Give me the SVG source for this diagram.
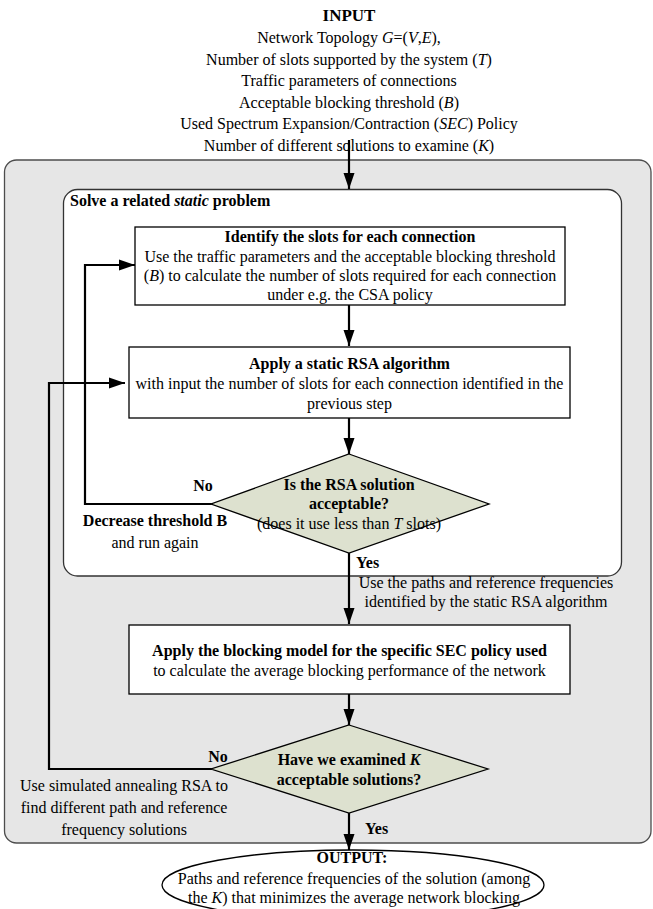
<svg xmlns="http://www.w3.org/2000/svg" width="653" height="909" viewBox="0 0 653 909">
<style>
text{font-family:'Liberation Serif','DejaVu Serif','Noto Serif',serif;font-size:16px;fill:#000}
.b{font-weight:bold}
.c{text-anchor:middle}
.i{font-style:italic}
.box{fill:#fff;stroke:#000;stroke-width:1.3}
.dia{fill:#dde1cf;stroke:#000;stroke-width:1.3}
.conn{fill:none;stroke:#000;stroke-width:2.2}
</style>
<defs>
<marker id="arr" markerUnits="userSpaceOnUse" markerWidth="16" markerHeight="12" refX="16" refY="6" orient="auto">
<path d="M0,0.5 L16,6 L0,11.5 z" fill="#000"/>
</marker>
</defs>
<rect width="653" height="909" fill="#fff"/>
<g id="outer-container">
<rect x="4.5" y="160" width="646.5" height="683" rx="12" fill="#e6e6e6" stroke="#4d4d4d" stroke-width="1.3"/>
</g>
<g id="static-container">
<rect x="63.5" y="189.5" width="558" height="386.5" rx="14" fill="#fff" stroke="#333" stroke-width="1.3"/>
<text class="b" x="70" y="205.5">Solve a related <tspan class="i">static</tspan> problem</text>
</g>
<g id="input">
<text class="b c" x="349" y="21" style="font-size:17px">INPUT</text>
<text class="c" x="349" y="43">Network Topology <tspan class="i">G</tspan>=(<tspan class="i">V</tspan>,<tspan class="i">E</tspan>),</text>
<text class="c" x="349" y="64.5">Number of slots supported by the system (<tspan class="i">T</tspan>)</text>
<text class="c" x="349" y="86">Traffic parameters of connections</text>
<text class="c" x="349" y="107.5">Acceptable blocking threshold (<tspan class="i">B</tspan>)</text>
<text class="c" x="349" y="129">Used Spectrum Expansion/Contraction (<tspan class="i">SEC</tspan>) Policy</text>
<text class="c" x="349" y="150.5">Number of different solutions to examine (<tspan class="i">K</tspan>)</text>
</g>
<g id="connectors">
<path class="conn" d="M349,140 V189" marker-end="url(#arr)"/>
<path class="conn" d="M349,305 V346" marker-end="url(#arr)"/>
<path class="conn" d="M349,418 V454" marker-end="url(#arr)"/>
<path class="conn" d="M349,553 V624" marker-end="url(#arr)"/>
<path class="conn" d="M349,694 V725" marker-end="url(#arr)"/>
<path class="conn" d="M349,813 V850" marker-end="url(#arr)"/>
<path class="conn" d="M212,504 H85 V265 H135" marker-end="url(#arr)"/>
<path class="conn" d="M212,769 H49 V383 H125" marker-end="url(#arr)"/>
</g>
<g id="identify-slots">
<rect class="box" x="135" y="227" width="430" height="78"/>
<text class="b c" x="350" y="242">Identify the slots for each connection</text>
<text class="c" x="350" y="261.5">Use the traffic parameters and the acceptable blocking threshold</text>
<text class="c" x="350" y="280.5">(<tspan class="i">B</tspan>) to calculate the number of slots required for each connection</text>
<text class="c" x="350" y="299.5">under e.g. the CSA policy</text>
</g>
<g id="static-rsa">
<rect class="box" x="129" y="347" width="441" height="71"/>
<text class="b c" x="349.5" y="368.5">Apply a static RSA algorithm</text>
<text class="c" x="349.5" y="388.5">with input the number of slots for each connection identified in the</text>
<text class="c" x="349.5" y="408.5">previous step</text>
</g>
<g id="rsa-acceptable">
<polygon class="dia" points="349,454 489,504 349,553 211,504"/>
<text class="b c" x="349" y="489.5">Is the RSA solution</text>
<text class="b c" x="349" y="508.5">acceptable?</text>
<text class="c" x="349" y="528.5">(does it use less than <tspan class="i">T</tspan> slots)</text>
</g>
<g id="labels-loop1">
<text class="b c" x="203" y="491">No</text>
<text class="b c" x="155" y="525.5">Decrease threshold B</text>
<text class="c" x="155" y="547.5">and run again</text>
<text class="b" x="356" y="567.5">Yes</text>
<text class="c" x="486" y="587.5">Use the paths and reference frequencies</text>
<text class="c" x="486" y="606.5">identified by the static RSA algorithm</text>
</g>
<g id="blocking-model">
<rect class="box" x="129" y="625" width="441" height="69"/>
<text class="b c" x="349.5" y="655.5">Apply the blocking model for the specific SEC policy used</text>
<text class="c" x="349.5" y="675.5">to calculate the average blocking performance of the network</text>
</g>
<g id="examined-k">
<polygon class="dia" points="349,725 488,769 349,813 211,769"/>
<text class="b c" x="349" y="764.5">Have we examined <tspan class="i">K</tspan></text>
<text class="b c" x="349" y="784.5">acceptable solutions?</text>
</g>
<g id="labels-loop2">
<text class="b c" x="218" y="762">No</text>
<text class="c" x="124" y="791">Use simulated annealing RSA to</text>
<text class="c" x="124" y="813">find different path and reference</text>
<text class="c" x="124" y="834.5">frequency solutions</text>
<text class="b" x="365" y="833.5">Yes</text>
</g>
<g id="output">
<ellipse cx="353" cy="885" rx="191" ry="35" fill="#fff" stroke="#000" stroke-width="1.3"/>
<text class="b c" x="352" y="862.5">OUTPUT:</text>
<text class="c" x="354" y="883.5">Paths and reference frequencies of the solution (among</text>
<text class="c" x="354" y="902.5">the <tspan class="i">K</tspan>) that minimizes the average network blocking</text>
</g>
</svg>
